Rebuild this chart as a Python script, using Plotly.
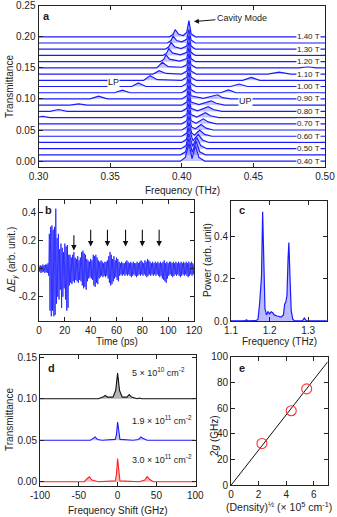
import plotly.graph_objects as go

W, H = 337, 517
FONT = "Liberation Sans, Arial, sans-serif"

# ---- panel a: transmission spectra vs magnetic field (offset 0.01 per 0.05 T)
FIELDS = [0.40, 0.45, 0.50, 0.55, 0.60, 0.65, 0.70, 0.75, 0.80, 0.85, 0.90,
          0.95, 1.00, 1.05, 1.10, 1.15, 1.20, 1.25, 1.30, 1.35, 1.40]
OFFSET_STEP = 0.01
LABEL_FIELDS = [0.40, 0.50, 0.60, 0.70, 0.80, 0.90, 1.00, 1.10, 1.20, 1.30, 1.40]

SPEC_A_FREQ = [
    [0.300, 0.3990, 0.4025, 0.4050, 0.4072, 0.4095, 0.4120, 0.4160, 0.500],
    [0.300, 0.3990, 0.4027, 0.4050, 0.4074, 0.4100, 0.4125, 0.4165, 0.500],
    [0.300, 0.3995, 0.4030, 0.4050, 0.4076, 0.4105, 0.4132, 0.4175, 0.500],
    [0.300, 0.4000, 0.4033, 0.4050, 0.4078, 0.4115, 0.4145, 0.4190, 0.500],
    [0.300, 0.4000, 0.4035, 0.4050, 0.4070, 0.4090, 0.4125, 0.4160, 0.4210, 0.500],
    [0.300, 0.4000, 0.4035, 0.4050, 0.4068, 0.4095, 0.4135, 0.4170, 0.4220, 0.500],
    [0.300, 0.4000, 0.4035, 0.4050, 0.4066, 0.4100, 0.4150, 0.4185, 0.4240, 0.500],
    [0.300, 0.3030, 0.3080, 0.4000, 0.4035, 0.4050, 0.4065, 0.4105, 0.4165, 0.4200, 0.4260, 0.500],
    [0.300, 0.3080, 0.3140, 0.3200, 0.4000, 0.4035, 0.4050, 0.4065, 0.4110, 0.4185, 0.4220, 0.4280, 0.500],
    [0.300, 0.3220, 0.3280, 0.3340, 0.4000, 0.4035, 0.4050, 0.4065, 0.4120, 0.4205, 0.4240, 0.4300, 0.500],
    [0.300, 0.3360, 0.3420, 0.3480, 0.4000, 0.4035, 0.4050, 0.4065, 0.4150, 0.4251, 0.4285, 0.4340, 0.500],
    [0.300, 0.3530, 0.3585, 0.3640, 0.4000, 0.4035, 0.4050, 0.4065, 0.4100, 0.4270, 0.4326, 0.4380, 0.500],
    [0.300, 0.3650, 0.3697, 0.3750, 0.4000, 0.4035, 0.4050, 0.4065, 0.4100, 0.4340, 0.4400, 0.4460, 0.500],
    [0.300, 0.3735, 0.3779, 0.3830, 0.4000, 0.4035, 0.4050, 0.4065, 0.4100, 0.4425, 0.4485, 0.4545, 0.500],
    [0.300, 0.3800, 0.3842, 0.3890, 0.4000, 0.4035, 0.4050, 0.4065, 0.4100, 0.4600, 0.4680, 0.4760, 0.500],
    [0.300, 0.3825, 0.3865, 0.3905, 0.4000, 0.4035, 0.4050, 0.4065, 0.4100, 0.4820, 0.4880, 0.4940, 0.500],
    [0.300, 0.3850, 0.3875, 0.3890, 0.3915, 0.3985, 0.4035, 0.4050, 0.4065, 0.4095, 0.500],
    [0.300, 0.3870, 0.3895, 0.3910, 0.3935, 0.3990, 0.4035, 0.4050, 0.4065, 0.4095, 0.500],
    [0.300, 0.3885, 0.3910, 0.3925, 0.3950, 0.3995, 0.4035, 0.4050, 0.4065, 0.4095, 0.500],
    [0.300, 0.3900, 0.3925, 0.3940, 0.3965, 0.4000, 0.4035, 0.4050, 0.4065, 0.4095, 0.500],
    [0.300, 0.3915, 0.3940, 0.3954, 0.3978, 0.4010, 0.4035, 0.4050, 0.4065, 0.4095, 0.500],
]
SPEC_A_DT = [
    [0, 0, 0.006, 0.028, 0.004, 0.025, 0.006, 0, 0],
    [0, 0, 0.005, 0.026, 0.004, 0.022, 0.005, 0, 0],
    [0, 0, 0.005, 0.024, 0.004, 0.018, 0.005, 0, 0],
    [0, 0, 0.005, 0.023, 0.003, 0.013, 0.004, 0, 0],
    [0, 0, 0.005, 0.022, 0.005, 0.002, 0.010, 0.003, 0, 0],
    [0, 0, 0.005, 0.022, 0.005, 0.002, 0.009, 0.003, 0, 0],
    [0, 0, 0.005, 0.022, 0.005, 0.001, 0.008, 0.003, 0, 0],
    [0.001, 0.002, 0, 0, 0.005, 0.022, 0.005, 0.001, 0.008, 0.003, 0, 0],
    [0, 0, 0.003, 0, 0, 0.005, 0.022, 0.005, 0.001, 0.0075, 0.003, 0, 0],
    [0, 0, 0.002, 0, 0, 0.005, 0.022, 0.005, 0.001, 0.007, 0.003, 0, 0],
    [0, 0, 0.0045, 0, 0, 0.005, 0.022, 0.005, 0.001, 0.0067, 0.002, 0, 0],
    [0, 0, 0.004, 0, 0, 0.005, 0.022, 0.005, 0, 0, 0.0045, 0, 0],
    [0, 0, 0.0056, 0, 0, 0.005, 0.022, 0.005, 0, 0, 0.004, 0, 0],
    [0, 0, 0.0075, 0.001, 0, 0.005, 0.022, 0.005, 0, 0, 0.0047, 0, 0],
    [0, 0, 0.0055, 0.001, 0, 0.005, 0.022, 0.005, 0, 0, 0.003, 0, 0],
    [0, 0, 0.009, 0.002, 0.001, 0.005, 0.022, 0.005, 0, 0, 0.002, 0, 0],
    [0, 0, 0.004, 0.011, 0.004, 0.001, 0.005, 0.022, 0.005, 0, 0],
    [0, 0, 0.004, 0.011, 0.004, 0.001, 0.005, 0.022, 0.005, 0, 0],
    [0, 0, 0.004, 0.011, 0.004, 0.001, 0.005, 0.022, 0.005, 0, 0],
    [0, 0, 0.004, 0.011, 0.004, 0.002, 0.006, 0.022, 0.005, 0, 0],
    [0, 0, 0.004, 0.0115, 0.004, 0.002, 0.007, 0.026, 0.005, 0, 0],
]

# ---- panel b: time-domain signal, upper / lower envelope per ps
TIME_PS = list(range(121))
EY_UPPER = [0.02, 0.025, 0.02, 0.03, 0.025, 0.03, 0.03, 0.04,
            0.25, 0.30, 0.31, 0.28, 0.30, 0.43, 0.22, 0.25, 0.14, 0.18, 0.15, 0.12,
            0.18, 0.16, 0.17, 0.10, 0.10, 0.08, 0.10, 0.12, 0.08, 0.07,
            0.09, 0.06, 0.08, 0.12, 0.13, 0.11, 0.10, 0.07, 0.06, 0.05,
            0.07, 0.06, 0.10, 0.09, 0.10, 0.08, 0.06, 0.05, 0.06, 0.05,
            0.04, 0.05, 0.05, 0.06, 0.09, 0.12, 0.10, 0.07, 0.09, 0.06,
            0.08, 0.07, 0.05, 0.04, 0.05, 0.04, 0.04, 0.05, 0.06, 0.05,
            0.04, 0.05, 0.04, 0.05, 0.04, 0.04, 0.05, 0.04, 0.05, 0.06,
            0.05, 0.04, 0.06, 0.05, 0.07, 0.06, 0.05, 0.04, 0.05, 0.04,
            0.05, 0.04, 0.05, 0.04, 0.05, 0.04, 0.05, 0.06, 0.04, 0.05,
            0.04, 0.05, 0.05, 0.04, 0.05, 0.04, 0.05, 0.04, 0.05, 0.04,
            0.05, 0.04, 0.05, 0.04, 0.05, 0.04, 0.05, 0.04, 0.05, 0.04,
            0.03]
EY_LOWER = [-0.02, -0.03, -0.025, -0.02, -0.03, -0.025, -0.03, -0.05,
            -0.30, -0.34, -0.30, -0.34, -0.33, -0.25, -0.20, -0.22, -0.15, -0.28, -0.20, -0.14,
            -0.22, -0.30, -0.28, -0.12, -0.10, -0.11, -0.09, -0.10, -0.08, -0.09,
            -0.10, -0.08, -0.09, -0.12, -0.14, -0.13, -0.15, -0.09, -0.07, -0.06,
            -0.07, -0.08, -0.12, -0.13, -0.10, -0.11, -0.07, -0.06, -0.05, -0.06,
            -0.05, -0.06, -0.05, -0.07, -0.10, -0.12, -0.11, -0.09, -0.07, -0.06,
            -0.08, -0.09, -0.05, -0.04, -0.05, -0.04, -0.05, -0.04, -0.05, -0.04,
            -0.05, -0.06, -0.05, -0.04, -0.05, -0.06, -0.05, -0.04, -0.05, -0.04,
            -0.05, -0.04, -0.05, -0.06, -0.05, -0.04, -0.05, -0.04, -0.05, -0.04,
            -0.05, -0.04, -0.05, -0.06, -0.05, -0.07, -0.08, -0.09, -0.10, -0.07,
            -0.05, -0.04, -0.05, -0.06, -0.05, -0.04, -0.05, -0.04, -0.05, -0.06,
            -0.05, -0.04, -0.05, -0.04, -0.05, -0.06, -0.05, -0.04, -0.05, -0.04,
            -0.03]
ARROW_T = [27, 40, 53, 67, 80, 93]
ARROW_TIP = [0.13, 0.16, 0.16, 0.16, 0.16, 0.16]
ARROW_TAIL = [0.25, 0.29, 0.29, 0.29, 0.29, 0.29]

# ---- panel c: power spectrum
POW_FREQ = [1.100, 1.135, 1.140, 1.145, 1.165, 1.170, 1.174, 1.177, 1.179, 1.182,
            1.185, 1.188, 1.192, 1.196, 1.200, 1.204, 1.208, 1.212, 1.220, 1.230,
            1.236, 1.239, 1.242, 1.245, 1.248, 1.250, 1.253, 1.256, 1.260, 1.265,
            1.285, 1.290, 1.295, 1.310, 1.315, 1.320, 1.350]
POW_VAL = [0.002, 0.002, 0.006, 0.002, 0.003, 0.010, 0.080, 0.200, 0.210, 0.515,
           0.250, 0.060, 0.030, 0.045, 0.035, 0.045, 0.040, 0.030, 0.025, 0.020,
           0.030, 0.080, 0.090, 0.120, 0.300, 0.370, 0.200, 0.050, 0.010, 0.002,
           0.002, 0.015, 0.002, 0.002, 0.005, 0.002, 0.002]

# ---- panel d: spectra at three densities (GHz shift)
DENSITY_LABELS = ["5 × 10<sup>10</sup> cm<sup>-2</sup>",
                  "1.9 × 10<sup>11</sup> cm<sup>-2</sup>",
                  "3.0 × 10<sup>11</sup> cm<sup>-2</sup>"]
D_OFFSETS = [0.10, 0.05, 0.00]
D_FREQ = [
    [-100, -25, -19, -16, -13, -6, -2.5, 0, 2.5, 6, 12, 15, 18, 25, 28, 31, 100],
    [-100, -35, -32, -29, -26, -20, -3, -1.5, 0, 1.5, 3, 20, 27, 30, 33, 38, 100],
    [-100, -43, -40, -36.5, -33, -25, -3, -1.5, 0, 1.5, 3, 28, 35, 38, 41, 46, 100],
]
D_DT = [
    [0, 0, 0.002, 0.004, 0.002, 0.002, 0.010, 0.031, 0.010, 0.002, 0.002, 0.005, 0.002, 0, 0.001, 0, 0],
    [0, 0, 0.002, 0.004, 0.001, 0, 0.001, 0.007, 0.022, 0.007, 0.001, 0, 0.001, 0.004, 0.002, 0, 0],
    [0, 0, 0.003, 0.006, 0.002, 0, 0.001, 0.009, 0.028, 0.009, 0.001, 0, 0.002, 0.006, 0.003, 0, 0],
]
D_LINE = ["#111111", "#1a1aff", "#ff2020"]
D_FILL = ["rgba(90,90,90,0.45)", "rgba(60,60,255,0.3)", "rgba(255,60,60,0.35)"]

# ---- panel e: coupling vs sqrt(density)
SQRT_DENS = [2.24, 4.36, 5.48]
TWO_G = [32.5, 58.0, 75.0]
FIT_X = [0, 7]
FIT_Y = [0, 96]


def px(x):
    return x / W


def py(y):
    return 1 - y / H


fig = go.Figure()
BLUE = "#1a1aff"
BLUE_FILL = "rgba(60,60,255,0.3)"

for i, (fq, dt) in enumerate(zip(SPEC_A_FREQ, SPEC_A_DT)):
    off = OFFSET_STEP * i
    fig.add_trace(go.Scatter(x=[0.30, 0.50], y=[off, off], mode="lines",
                             line=dict(width=0), xaxis="x", yaxis="y",
                             hoverinfo="skip", showlegend=False))
    fig.add_trace(go.Scatter(x=fq, y=[v + off for v in dt], mode="lines",
                             line=dict(color=BLUE, width=1.2), fill="tonexty",
                             fillcolor=BLUE_FILL, xaxis="x", yaxis="y",
                             showlegend=False))

# zigzag between the envelopes
bx, by = [], []
for t, u, l in zip(TIME_PS, EY_UPPER, EY_LOWER):
    bx += [t, t + 0.5]
    by += [u, l]
fig.add_trace(go.Scatter(x=bx, y=by, mode="lines", line=dict(color=BLUE, width=0.8),
                         xaxis="x2", yaxis="y2", showlegend=False))

fig.add_trace(go.Scatter(x=POW_FREQ, y=POW_VAL, mode="lines", fill="tozeroy",
                         fillcolor="rgba(60,60,255,0.35)",
                         line=dict(color=BLUE, width=1.2),
                         xaxis="x3", yaxis="y3", showlegend=False))

for fq, dt, off, lc, fc in zip(D_FREQ, D_DT, D_OFFSETS, D_LINE, D_FILL):
    fig.add_trace(go.Scatter(x=[-100, 100], y=[off, off], mode="lines",
                             line=dict(width=0), xaxis="x4", yaxis="y4",
                             hoverinfo="skip", showlegend=False))
    fig.add_trace(go.Scatter(x=fq, y=[v + off for v in dt], mode="lines",
                             line=dict(color=lc, width=1.1), fill="tonexty",
                             fillcolor=fc, xaxis="x4", yaxis="y4",
                             showlegend=False))

fig.add_trace(go.Scatter(x=FIT_X, y=FIT_Y, mode="lines",
                         line=dict(color="#111111", width=1),
                         xaxis="x5", yaxis="y5", showlegend=False))
fig.add_trace(go.Scatter(x=SQRT_DENS, y=TWO_G, mode="markers",
                         marker=dict(symbol="circle-open", size=10, color="#ff3030",
                                     line=dict(width=1.1)),
                         xaxis="x5", yaxis="y5", showlegend=False))

AX = dict(showline=True, linecolor="#222", linewidth=1, mirror="ticks",
          ticks="inside", ticklen=4, tickcolor="#222", showgrid=False,
          zeroline=False, automargin=False,
          tickfont=dict(size=10, color="#222", family=FONT))


def ax(**kw):
    d = dict(AX)
    d.update(kw)
    return d


fig.update_layout(
    width=W, height=H, margin=dict(l=0, r=0, t=0, b=0, autoexpand=False),
    paper_bgcolor="white", plot_bgcolor="white",
    font=dict(family=FONT, size=10, color="#222"),
    xaxis=ax(domain=[px(38.5), px(325)], range=[0.30, 0.50], anchor="y",
             tickvals=[0.30, 0.35, 0.40, 0.45, 0.50], tickformat=".2f"),
    yaxis=ax(domain=[py(166.7), py(5.7)], range=[-0.009, 0.25], anchor="x",
             mirror=True, tickvals=[0, 0.05, 0.10, 0.15, 0.20, 0.25], tickformat=".2f"),
    yaxis6=dict(overlaying="y", side="right", anchor="x", range=[-0.009, 0.25],
                tickvals=[0, 0.02, 0.04, 0.06, 0.08, 0.10, 0.12, 0.14, 0.16, 0.18, 0.20],
                ticks="inside", ticklen=4, tickcolor="#222", showticklabels=False,
                showgrid=False, zeroline=False, showline=False, automargin=False),
    xaxis2=ax(domain=[px(39), px(194)], range=[0, 120], anchor="y2",
              tickvals=[0, 20, 40, 60, 80, 100, 120]),
    yaxis2=ax(domain=[py(321.3), py(200.3)], range=[-0.376, 0.49], anchor="x2",
              tickvals=[-0.2, 0.0, 0.2, 0.4], ticktext=["-0.2", "0.0", "0.2", "0.4"]),
    xaxis3=ax(domain=[px(231), px(326.7)], range=[1.1, 1.348], anchor="y3",
              tickvals=[1.1, 1.2, 1.3], tickformat=".1f"),
    yaxis3=ax(domain=[py(321.3), py(200.7)], range=[0, 0.567], anchor="x3",
              tickvals=[0, 0.2, 0.4], tickformat=".1f"),
    xaxis4=ax(domain=[px(40), px(196)], range=[-100, 101], anchor="y4",
              tickvals=[-100, -50, 0, 50, 100],
              ticktext=["-100", "-50", "0", "50", "100"]),
    yaxis4=ax(domain=[py(485.7), py(355)], range=[-0.0048, 0.1528], anchor="x4",
              tickvals=[0, 0.05, 0.10, 0.15], tickformat=".2f"),
    xaxis5=ax(domain=[px(231), px(327.7)], range=[0, 7], anchor="y5",
              tickvals=[0, 2, 4, 6]),
    yaxis5=ax(domain=[py(485.3), py(356.7)], range=[0, 100], anchor="x5",
              tickvals=[0, 20, 40, 60, 80, 100]),
)

ann = []


def txt(x, y, s, size=10, angle=0, xanchor="center", bold=False, **kw):
    ann.append(dict(x=px(x), y=py(y), xref="paper", yref="paper", text=s,
                    showarrow=False, textangle=angle, xanchor=xanchor,
                    yanchor="middle",
                    font=dict(family=FONT, size=size, color="#222"), **kw))
    if bold:
        ann[-1]["text"] = "<b>" + s + "</b>"


# axis titles
txt(10, 87, "Transmittance", angle=-90)
txt(182, 190, "Frequency (THz)")
txt(12, 260, "Δ<i>E</i><sub><i>y</i></sub> (arb. unit.)", angle=-90)
txt(117, 341, "Time (ps)")
txt(207, 260, "Power (arb. unit)", angle=-90)
txt(279, 341, "Frequency (THz)")
txt(9, 420, "Transmittance", angle=-90)
txt(117, 510, "Frequency Shift (GHz)")
txt(214, 436, "2<i>g</i> (GHz)", angle=-90)
txt(279, 506, "(Density)<sup>½</sup> (× 10<sup>5</sup> cm<sup>-1</sup>)", size=10.5)

# panel letters
for s, x, y in [("a", 46.5, 16), ("b", 48, 210), ("c", 241.5, 210),
                ("d", 51.5, 368), ("e", 242, 368)]:
    txt(x, y, s, size=11, bold=True)

# field labels on panel a
for b in LABEL_FIELDS:
    i = FIELDS.index(b)
    ann.append(dict(x=0.4972, y=OFFSET_STEP * i, xref="x", yref="y",
                    text=f"{b:.2f} T", showarrow=False, xanchor="right",
                    yanchor="middle", bgcolor="white", borderpad=0,
                    font=dict(family=FONT, size=8, color="#222")))

ann.append(dict(x=0.3525, y=0.128, xref="x", yref="y", text="LP", showarrow=False,
                bgcolor="white", borderpad=0, font=dict(family=FONT, size=9, color="#222")))
ann.append(dict(x=0.4445, y=0.097, xref="x", yref="y", text="UP", showarrow=False,
                bgcolor="white", borderpad=0, font=dict(family=FONT, size=9, color="#222")))
ann.append(dict(x=0.4085, y=0.2245, xref="x", yref="y", text="Cavity Mode",
                showarrow=True, arrowhead=2, arrowsize=1, arrowwidth=1,
                arrowcolor="#111", ax=48, ay=-4, xanchor="center",
                font=dict(family=FONT, size=9, color="#222")))

# arrows in panel b
for t, tip, tail in zip(ARROW_T, ARROW_TIP, ARROW_TAIL):
    ann.append(dict(x=t, y=tip, ax=t, ay=tail, xref="x2", yref="y2",
                    axref="x2", ayref="y2", text="", showarrow=True,
                    arrowhead=2, arrowsize=1, arrowwidth=1.1, arrowcolor="#111"))

# density labels in panel d
for s, y in zip(DENSITY_LABELS, [372, 420, 459]):
    txt(130, y, s, size=9, xanchor="left")

fig.update_layout(annotations=ann)
fig.write_html("out.html", config={"displayModeBar": False},
               post_script="document.body.style.margin='0';")
